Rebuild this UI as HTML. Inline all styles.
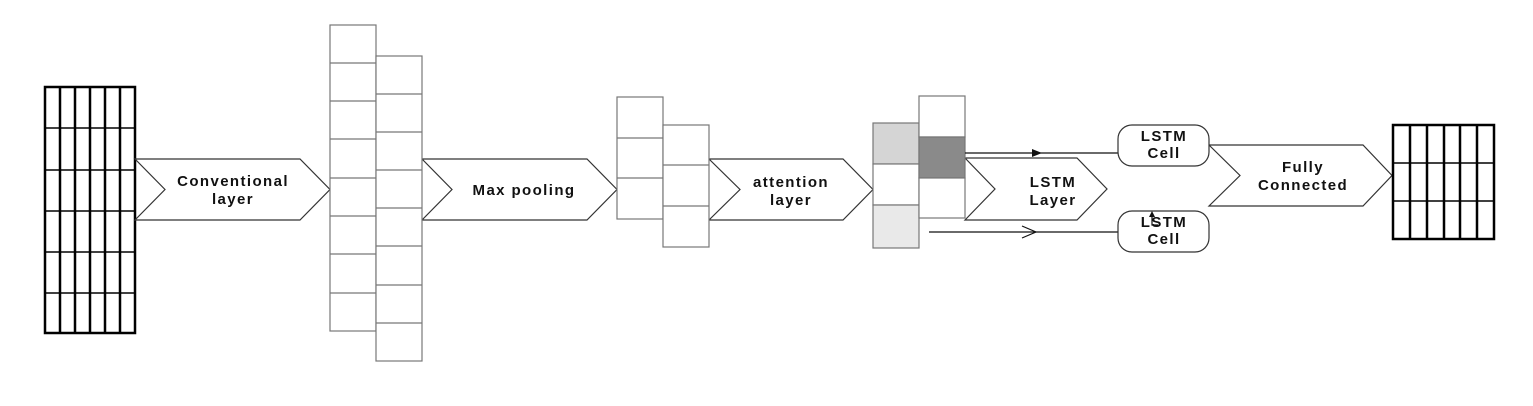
<!DOCTYPE html>
<html><head><meta charset="utf-8"><style>
html,body{margin:0;padding:0;background:#fff;}
svg{display:block;}
text{font-family:"Liberation Sans",Arial,sans-serif;font-weight:bold;font-size:15px;letter-spacing:1.4px;fill:#111;text-anchor:middle;}
</style></head><body>
<svg width="1533" height="406" viewBox="0 0 1533 406" xmlns="http://www.w3.org/2000/svg">
<g stroke="#000" stroke-width="2.5" fill="none">
<rect x="45" y="87" width="90" height="246"/>
<line x1="60" y1="87" x2="60" y2="333"/><line x1="75" y1="87" x2="75" y2="333"/><line x1="90" y1="87" x2="90" y2="333"/><line x1="105" y1="87" x2="105" y2="333"/><line x1="120" y1="87" x2="120" y2="333"/>
</g>
<g stroke="#000" stroke-width="1.5">
<line x1="45" y1="128" x2="135" y2="128"/><line x1="45" y1="170" x2="135" y2="170"/><line x1="45" y1="211" x2="135" y2="211"/><line x1="45" y1="252" x2="135" y2="252"/><line x1="45" y1="293" x2="135" y2="293"/>
</g>
<g stroke="#333" stroke-width="1.2" fill="#fff">
<polygon points="135,159 300,159 330,189.5 300,220 135,220 165,189.5"/>
<polygon points="422,159 587,159 617,189.5 587,220 422,220 452,189.5"/>
<polygon points="709,159 843,159 873,189.5 843,220 709,220 740,189.5"/>
<polygon points="965,158 1077,158 1107,189 1077,220 965,220 995,189"/>
<polygon points="1209,145 1363,145 1392,175.5 1363,206 1209,206 1240,175.5"/>
</g>
<g stroke="#777" stroke-width="1.2" fill="#fff">
<rect x="330" y="25" width="46" height="306"/>
<rect x="376" y="56" width="46" height="305"/>
<rect x="617" y="97" width="46" height="122"/>
<rect x="663" y="125" width="46" height="122"/>
</g>
<g stroke="#777" stroke-width="1.2">
<line x1="330" y1="63" x2="376" y2="63"/><line x1="330" y1="101" x2="376" y2="101"/><line x1="330" y1="139" x2="376" y2="139"/><line x1="330" y1="178" x2="376" y2="178"/><line x1="330" y1="216" x2="376" y2="216"/><line x1="330" y1="254" x2="376" y2="254"/><line x1="330" y1="293" x2="376" y2="293"/>
<line x1="376" y1="94" x2="422" y2="94"/><line x1="376" y1="132" x2="422" y2="132"/><line x1="376" y1="170" x2="422" y2="170"/><line x1="376" y1="208" x2="422" y2="208"/><line x1="376" y1="246" x2="422" y2="246"/><line x1="376" y1="285" x2="422" y2="285"/><line x1="376" y1="323" x2="422" y2="323"/>
<line x1="617" y1="138" x2="663" y2="138"/><line x1="617" y1="178" x2="663" y2="178"/>
<line x1="663" y1="165" x2="709" y2="165"/><line x1="663" y1="206" x2="709" y2="206"/>
</g>
<g stroke="#777" stroke-width="1.2">
<rect x="873" y="123" width="46" height="41" fill="#d5d5d5"/>
<rect x="873" y="164" width="46" height="41" fill="#fff"/>
<rect x="873" y="205" width="46" height="43" fill="#e9e9e9"/>
<rect x="919" y="96" width="46" height="41" fill="#fff"/>
<rect x="919" y="137" width="46" height="41" fill="#8a8a8a"/>
<rect x="919" y="178" width="46" height="40" fill="#fff"/>
</g>
<g stroke="#111" stroke-width="1.2" fill="none">
<line x1="965" y1="153" x2="1118" y2="153"/>
<line x1="929" y1="232" x2="1118" y2="232"/>
<polyline points="1022,226 1036,232 1022,238"/>
</g>
<polygon points="1032,149 1042,153 1032,157" fill="#111"/>
<g stroke="#333" stroke-width="1.2" fill="#fff">
<rect x="1118" y="125" width="91" height="41" rx="14"/>
<rect x="1118" y="211" width="91" height="41" rx="14"/>
</g>
<g stroke="#111" stroke-width="1.2" fill="none">
<polyline points="1152,213 1152,225 1158,225"/>
</g>
<polygon points="1149,217 1152,211 1155,217" fill="#111"/>
<g stroke="#000" stroke-width="2.5" fill="none">
<rect x="1393" y="125" width="101" height="114"/>
<line x1="1410" y1="125" x2="1410" y2="239"/><line x1="1427" y1="125" x2="1427" y2="239"/><line x1="1444" y1="125" x2="1444" y2="239"/><line x1="1460" y1="125" x2="1460" y2="239"/><line x1="1477" y1="125" x2="1477" y2="239"/>
</g>
<g stroke="#000" stroke-width="1.5">
<line x1="1393" y1="163" x2="1494" y2="163"/><line x1="1393" y1="201" x2="1494" y2="201"/>
</g>
<text x="233" y="186">Conventional</text>
<text x="233" y="204">layer</text>
<text x="524" y="195">Max pooling</text>
<text x="791" y="187">attention</text>
<text x="791" y="205">layer</text>
<text x="1053" y="187">LSTM</text>
<text x="1053" y="205">Layer</text>
<text x="1164" y="141" font-size="14">LSTM</text>
<text x="1164" y="158" font-size="14">Cell</text>
<text x="1164" y="227" font-size="14">LSTM</text>
<text x="1164" y="244" font-size="14">Cell</text>
<text x="1303" y="172">Fully</text>
<text x="1303" y="190">Connected</text>
</svg>
</body></html>
